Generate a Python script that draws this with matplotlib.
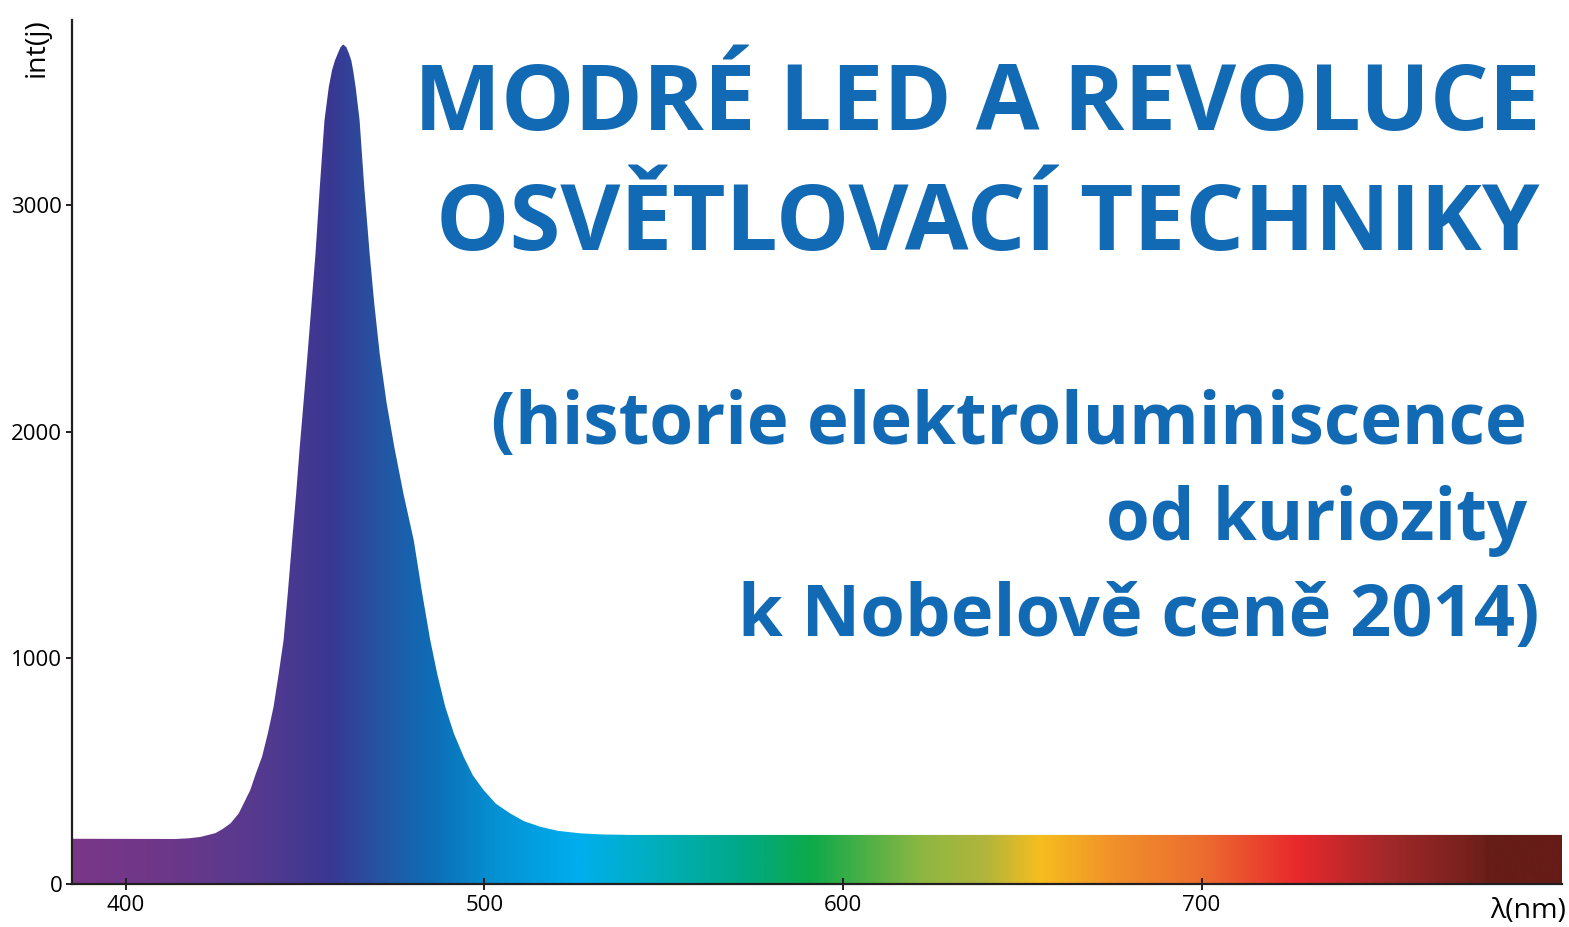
import numpy as np
import matplotlib
matplotlib.use('Agg')
import matplotlib.pyplot as plt
from matplotlib.colors import LinearSegmentedColormap
from matplotlib.patches import Polygon

# spectrum of a blue LED (wavelength in nm, intensity)
wavelength = [385, 413.8, 417.5, 420.8, 425.0, 427.0, 429.2, 431.5, 433.0, 434.7,
              436.2, 438.0, 439.6, 441.2, 442.6, 444.0, 445.2, 446.4, 447.5, 448.5,
              449.6, 450.7, 451.8, 452.9, 454.1, 455.4, 456.6, 457.5, 458.3, 459.1,
              459.9, 460.6, 461.5, 462.25, 462.9, 463.4, 464.1, 465.2, 466.5, 468.0,
              469.3, 470.8, 472.7, 474.9, 477.5, 480.3, 482.6, 484.9, 486.9, 489.1,
              491.5, 494.2, 496.8, 499.8, 503.2, 507.2, 511.0, 515.6, 520.5, 526.7,
              533.0, 540.7, 800.5]
intensity = [200, 199, 202, 208, 225, 243, 268, 312, 360, 415,
             485, 563, 665, 783, 925, 1078, 1290, 1520, 1725, 1930,
             2135, 2345, 2565, 2787, 3081, 3376, 3523, 3597, 3640, 3671,
             3700, 3712, 3700, 3671, 3640, 3597, 3523, 3376, 3081, 2787,
             2565, 2345, 2130, 1930, 1720, 1520, 1290, 1078, 925, 783,
             665, 563, 480, 415, 355, 312, 278, 253, 235, 224,
             219, 217, 217]

x_ticks = [400, 500, 600, 700]
y_ticks = [0, 1000, 2000, 3000]
x_range = (385, 800.5)
y_range = (0, 3820)

# rainbow colour stops (wavelength, colour)
stop_nm = [385, 409, 436, 457, 470, 486, 503, 526, 551, 571, 591,
           622, 640, 655, 676, 700, 727, 752, 779, 779.6, 800.5]
stop_col = ['#7B3688', '#6E3789', '#563A8F', '#3A3792', '#2653A2', '#0D6EB7',
            '#0591D3', '#00AEEF', '#00AEB5', '#00A988', '#0DA94B', '#8DB742',
            '#B2B53C', '#F6BE1E', '#F0902A', '#EC6E30', '#E8282C', '#A1292A',
            '#6E1F1A', '#661C17', '#661C17']

title_lines = ['MODRÉ LED A REVOLUCE', 'OSVĚTLOVACÍ TECHNIKY']
sub_lines = ['(historie elektroluminiscence', 'od kuriozity', 'k Nobelově ceně 2014)']

W, H = 1569, 927
blue = '#126AB4'
ink = '#231F20'
plt.rcParams['font.family'] = ['Open Sans', 'DejaVu Sans']

fig = plt.figure(figsize=(W / 100, H / 100), dpi=100)
ax = fig.add_axes([72 / W, 43 / H, (1562 - 72) / W, (884 - 20) / H])

# gradient image clipped by the spectrum outline
span = x_range[1] - x_range[0]
cmap = LinearSegmentedColormap.from_list(
    'spec', [((n - x_range[0]) / span, c) for n, c in zip(stop_nm, stop_col)], N=1024)
grad = np.linspace(x_range[0], x_range[1], 2000).reshape(1, -1)
im = ax.imshow(grad, extent=[x_range[0], x_range[1], y_range[0], y_range[1]],
               aspect='auto', cmap=cmap, vmin=x_range[0], vmax=x_range[1],
               origin='lower', interpolation='bilinear')
verts = list(zip(wavelength, intensity)) + [(wavelength[-1], 0), (wavelength[0], 0)]
outline = Polygon(verts, closed=True, facecolor='none', edgecolor='none')
ax.add_patch(outline)
im.set_clip_path(outline)

ax.set_xlim(*x_range)
ax.set_ylim(*y_range)

for s in ['top', 'right']:
    ax.spines[s].set_visible(False)
for s in ['left', 'bottom']:
    ax.spines[s].set_color(ink)
    ax.spines[s].set_linewidth(1.6)

ax.set_xticks(x_ticks)
ax.set_yticks(y_ticks)
ax.tick_params(axis='x', direction='inout', length=8, width=1.4, color=ink,
               labelsize=16, pad=4)
ax.tick_params(axis='y', direction='out', length=4, width=1.4, color=ink,
               labelsize=16, pad=3)

fig.text(37 / W, 1 - 18 / H, 'int(j)', rotation=90, ha='center', va='top',
         fontsize=20.5, color='black')
fig.text(1566 / W, 1 - 918 / H, 'λ(nm)', ha='right', va='baseline',
         fontsize=20.5, color='black')

# headline text
fig.text(1540 / W, 1 - 130 / H, title_lines[0], ha='right', va='baseline',
         fontsize=66.5, fontweight='bold', color=blue)
fig.text(1540 / W, 1 - 250 / H, title_lines[1], ha='right', va='baseline',
         fontsize=66.5, fontweight='bold', color=blue)
fig.text(1527 / W, 1 - 444 / H, sub_lines[0], ha='right', va='baseline',
         fontsize=51, fontweight='bold', color=blue)
fig.text(1527 / W, 1 - 540 / H, sub_lines[1], ha='right', va='baseline',
         fontsize=51, fontweight='bold', color=blue)
fig.text(1540 / W, 1 - 636 / H, sub_lines[2], ha='right', va='baseline',
         fontsize=52, fontweight='bold', color=blue)

fig.savefig('out.png', dpi=100)
